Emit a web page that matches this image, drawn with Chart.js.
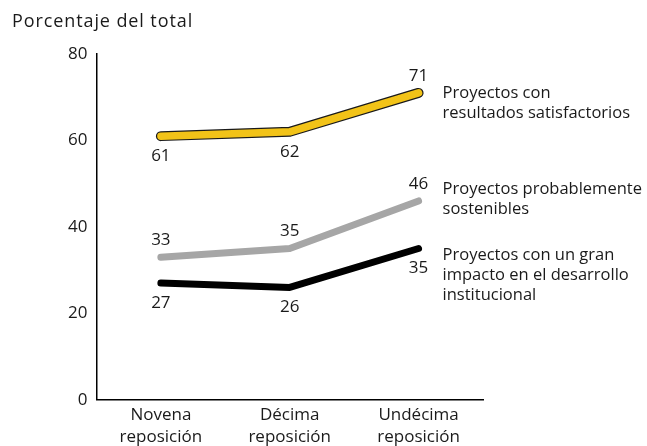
<!DOCTYPE html>
<html><head><meta charset="utf-8">
<script src="https://cdn.jsdelivr.net/npm/chart.js@4/dist/chart.umd.min.js"></script>
<style>html,body{margin:0;padding:0;background:#fff}#wrap{width:647px;height:446px}</style>
</head><body><div id="wrap"><canvas id="c" width="647" height="446"></canvas></div>
<script>
const categories = [["Novena","reposición"],["Décima","reposición"],["Undécima","reposición"]];
const satisfactorios = [61, 62, 71];
const sostenibles = [33, 35, 46];
const impacto = [27, 26, 35];
const yTicks = [0, 20, 40, 60, 80];
const seriesNames = [
  ["Proyectos con","resultados satisfactorios"],
  ["Proyectos probablemente","sostenibles"],
  ["Proyectos con un gran","impacto en el desarrollo","institucional"]
];
const yTitle = "Porcentaje del total";
const FONT = "'Open Sans', 'Noto Sans', sans-serif";
const FS = 17;

const labelPlugin = {
  id: 'labels',
  afterDatasetsDraw(chart) {
    const ctx = chart.ctx;
    const xs = chart.scales.x, ys = chart.scales.y;
    ctx.save();
    ctx.fillStyle = '#1a1a1a';
    ctx.font = '18px ' + FONT;
    ctx.textAlign = 'left';
    ctx.textBaseline = 'middle';
    try { ctx.letterSpacing = '0.9px'; } catch (e) {}
    ctx.fillText(yTitle, 12, 22);
    try { ctx.letterSpacing = '0px'; } catch (e) {}
    ctx.font = FS + 'px ' + FONT;
    ctx.textAlign = 'center';
    const specs = [
      [satisfactorios, ['below','below','above']],
      [sostenibles, ['above','above','above']],
      [impacto, ['below','below','below']]
    ];
    specs.forEach(([data, pos]) => {
      data.forEach((v, i) => {
        const x = xs.getPixelForValue(i);
        const y = ys.getPixelForValue(v);
        const dy = pos[i] === 'above' ? -17 : 20;
        ctx.fillText(String(v), x, y + dy);
      });
    });
    ctx.textAlign = 'left';
    ctx.font = '16.5px ' + FONT;
    const lastX = xs.getPixelForValue(2) + 24;
    const ends = [satisfactorios[2], sostenibles[2], impacto[2]];
    const offs = [0, -12, 7];
    seriesNames.forEach((lines, k) => {
      const y0 = ys.getPixelForValue(ends[k]) + offs[k];
      lines.forEach((t, j) => ctx.fillText(t, lastX, y0 + j * 20));
    });
    ctx.restore();
  }
};

const common = { borderCapStyle: 'round', borderJoinStyle: 'round', pointRadius: 0, tension: 0 };
new Chart(document.getElementById('c'), {
  type: 'line',
  data: {
    labels: categories,
    datasets: [
      Object.assign({ data: impacto, borderColor: '#000', borderWidth: 7, order: 4 }, common),
      Object.assign({ data: sostenibles, borderColor: '#a6a6a6', borderWidth: 7, order: 3 }, common),
      Object.assign({ data: satisfactorios, borderColor: '#1a1a1a', borderWidth: 10, order: 2 }, common),
      Object.assign({ data: satisfactorios, borderColor: '#f2c318', borderWidth: 7.5, order: 1 }, common)
    ]
  },
  options: {
    responsive: false,
    animation: false,
    layout: { padding: { left: 59, right: 164, top: 54, bottom: -6 } },
    plugins: { legend: { display: false }, tooltip: { enabled: false }, title: { display: false } },
    scales: {
      x: {
        offset: true,
        grid: { display: false, drawTicks: false },
        border: { display: true, color: '#000', width: 1.5 },
        ticks: { color: '#1a1a1a', font: { family: FONT, size: FS, lineHeight: 1.3 }, padding: 4, maxRotation: 0 }
      },
      y: {
        min: 0, max: 80,
        afterBuildTicks(scale) { scale.ticks = yTicks.map(v => ({ value: v })); },
        grid: { display: false, drawTicks: false },
        border: { display: true, color: '#000', width: 1.5 },
        ticks: { color: '#1a1a1a', font: { family: FONT, size: FS }, padding: 9 }
      }
    }
  },
  plugins: [labelPlugin]
});
</script></body></html>
